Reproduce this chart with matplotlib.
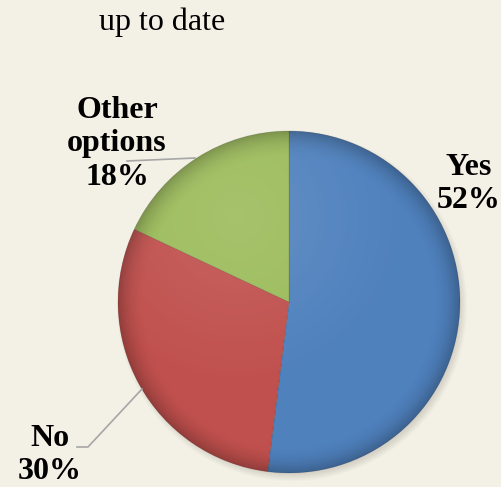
import matplotlib.pyplot as plt
import numpy as np
from matplotlib.patches import Circle

# survey answers
labels = ['Yes', 'No', 'Other\noptions']
shares = [52, 30, 18]
colors = ['#4F81BD', '#C0504D', '#9BBB59']
title = 'up to date'

plt.rcParams['font.family'] = ['Liberation Serif', 'DejaVu Serif']

fig = plt.figure(figsize=(5.02, 4.87), dpi=100)
bg = '#F3F0E6'
fig.patch.set_facecolor(bg)
ax = fig.add_axes([0, 0, 1, 1])
ax.set_facecolor(bg)

cx, cy, r = 289, 185, 171

# soft drop shadow under the pie
for i in range(8):
    ax.add_patch(Circle((cx + 3, cy - 4), r + 4 - i, color='#8a8478',
                        alpha=0.035, lw=0, zorder=0))

wedges, _ = ax.pie(shares, colors=colors, startangle=90, counterclock=False,
                   center=(cx, cy), radius=r, frame=True,
                   wedgeprops=dict(linewidth=0.6, edgecolor='#00000022'))

# rim shading so the pie looks a bit domed
n = 400
yy, xx = np.mgrid[-1:1:n * 1j, -1:1:n * 1j]
rr = np.sqrt(xx ** 2 + yy ** 2)
shade = np.zeros((n, n, 4))
alpha = np.clip((rr - 0.84) / 0.16, 0, 1) ** 2 * 0.24
shade[..., 3] = alpha
im = ax.imshow(shade, extent=(cx - r, cx + r, cy - r, cy + r), zorder=3,
               interpolation='bilinear')
im.set_clip_path(Circle((cx, cy), r, transform=ax.transData))

# light sheen toward the top left
sheen = np.ones((n, n, 4))
sheen[..., 3] = np.clip(0.12 - 0.12 * np.sqrt((xx + 0.3) ** 2 + (yy + 0.5) ** 2), 0, 1)
im2 = ax.imshow(sheen, extent=(cx - r, cx + r, cy - r, cy + r), zorder=3,
                interpolation='bilinear')
im2.set_clip_path(Circle((cx, cy), r, transform=ax.transData))

ax.set_xlim(0, 502)
ax.set_ylim(0, 487)
ax.axis('off')

# data labels
label_pos = [(469, 303), (50, 32), (117, 343)]
for lab, val, (x, y) in zip(labels, shares, label_pos):
    ax.text(x, y, f'{lab}\n{val}%', ha='center', va='center',
            fontsize=23, fontweight='bold', linespacing=1.2, zorder=5)

# leader lines
ax.plot([127, 195], [326, 329], color='#A6A6A6', lw=1.2, zorder=4)
ax.plot([77, 88, 142], [40, 40, 98], color='#A6A6A6', lw=1.2, zorder=4)

ax.text(162, 457, title, ha='center', va='baseline', fontsize=23)

fig.savefig('out.png', dpi=100, facecolor=bg)
